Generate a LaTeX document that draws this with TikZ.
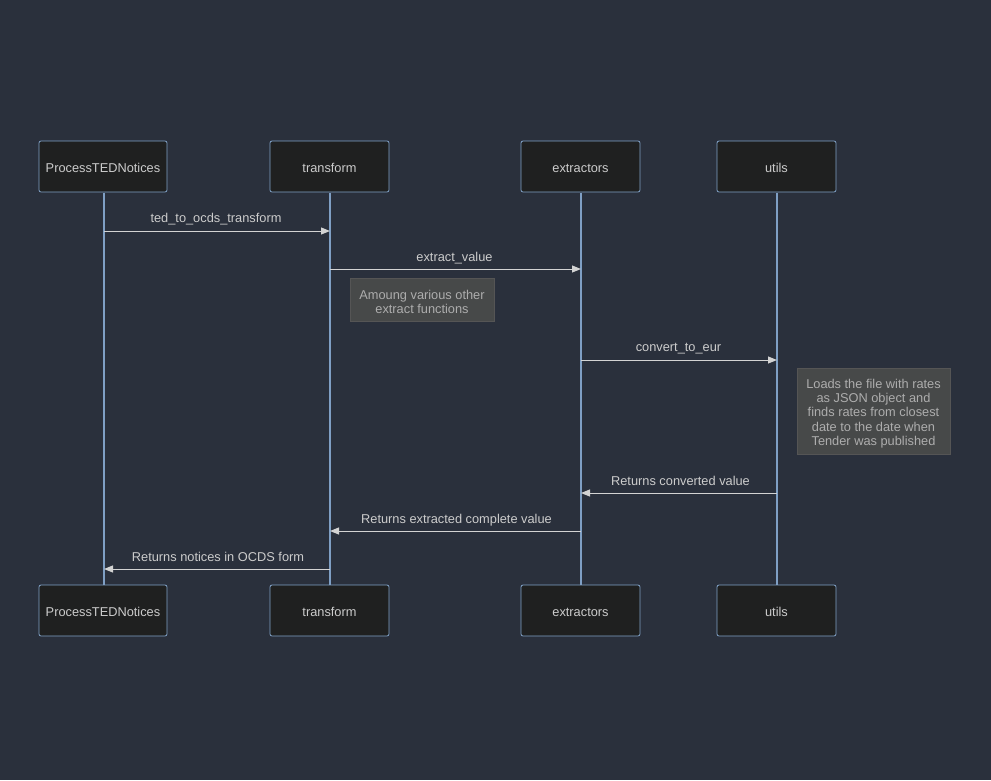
\documentclass[tikz,border=0pt]{standalone}
\usepackage{fontspec}
\setmainfont{Liberation Sans}
\usetikzlibrary{arrows.meta}
\definecolor{bg}{HTML}{2A303C}
\definecolor{boxfill}{HTML}{1F2020}
\definecolor{boxline}{HTML}{81A3C8}
\definecolor{life}{HTML}{7F9FC4}
\definecolor{msg}{HTML}{D3D3D3}
\definecolor{txt}{HTML}{CCCCCC}
\definecolor{notefill}{HTML}{474949}
\definecolor{noteline}{HTML}{555555}
\definecolor{notetxt}{HTML}{ADADAD}
\tikzset{
  actor/.style={draw=boxline, fill=boxfill, rounded corners=2pt, line width=0.8pt, minimum width=119pt, minimum height=51pt, text=txt, font=\fontsize{12.8}{15}\selectfont, inner sep=0pt, text height=12pt, text depth=0.3pt},
  lifeline/.style={draw=life, line width=1.2pt},
  msgline/.style={draw=msg, line width=1pt, -{Triangle[length=9pt,width=7pt]}},
  msglabel/.style={text=txt, font=\fontsize{12.8}{15}\selectfont, inner sep=0pt, text height=12pt, text depth=0.3pt},
  notebox/.style={draw=noteline, fill=notefill, line width=0.8pt, inner sep=0pt},
  notetext/.style={text=notetxt, font=\fontsize{12.8}{14.3}\selectfont, align=center, inner sep=0pt, yshift=-2.5pt}
}
\begin{document}
\begin{tikzpicture}[x=1pt,y=-1pt]
\fill[bg] (0,0) rectangle (991,780);
\useasboundingbox (0,0) rectangle (991,780);
% top actors
\node[actor, minimum width=128pt] (p1) at (103,166.5) {ProcessTEDNotices};
\node[actor] (t1) at (329.5,166.5) {transform};
\node[actor] (e1) at (580.5,166.5) {extractors};
\node[actor] (u1) at (776.5,166.5) {utils};
% bottom actors
\node[actor, minimum width=128pt] (p2) at (103,610.5) {ProcessTEDNotices};
\node[actor] (t2) at (329.5,610.5) {transform};
\node[actor] (e2) at (580.5,610.5) {extractors};
\node[actor] (u2) at (776.5,610.5) {utils};
% lifelines
\coordinate (pl1) at (104,192.5); \coordinate (pl2) at (104,585);
\coordinate (tl1) at (330,192.5); \coordinate (tl2) at (330,585);
\coordinate (el1) at (581,192.5); \coordinate (el2) at (581,585);
\coordinate (ul1) at (777,192.5); \coordinate (ul2) at (777,585);
\draw[lifeline] (pl1) -- (pl2);
\draw[lifeline] (tl1) -- (tl2);
\draw[lifeline] (el1) -- (el2);
\draw[lifeline] (ul1) -- (ul2);
% message points
\coordinate (m1a) at (104,231); \coordinate (m1b) at (330,231);
\coordinate (m2a) at (330,269); \coordinate (m2b) at (581,269);
\coordinate (m3a) at (581,360); \coordinate (m3b) at (777,360);
\coordinate (m4a) at (777,493); \coordinate (m4b) at (581,493);
\coordinate (m5a) at (581,531); \coordinate (m5b) at (330,531);
\coordinate (m6a) at (330,569); \coordinate (m6b) at (104,569);
\draw[msgline] (m1a) -- (m1b);
\draw[msgline] (m2a) -- (m2b);
\draw[msgline] (m3a) -- (m3b);
\draw[msgline] (m4a) -- (m4b);
\draw[msgline] (m5a) -- (m5b);
\draw[msgline] (m6a) -- (m6b);
\node[msglabel] (l1) at (216,216.5) {ted\_to\_ocds\_transform};
\node[msglabel] (l2) at (454.5,255.5) {extract\_value};
\node[msglabel] (l3) at (678.5,345.5) {convert\_to\_eur};
\node[msglabel] (l4) at (680.5,479.5) {Returns converted value};
\node[msglabel] (l5) at (456.5,517.5) {Returns extracted complete value};
\node[msglabel] (l6) at (218,555.5) {Returns notices in OCDS form};
% notes
\node[notebox, minimum width=144pt, minimum height=43pt] (n1) at (422,299.5) {};
\node[notetext] (n1t) at (n1.center) {Amoung various other\\extract functions};
\node[notebox, minimum width=153pt, minimum height=86pt] (n2) at (873.5,411) {};
\node[notetext] (n2t) at (n2.center) {Loads the file with rates\\as JSON object and\\finds rates from closest\\date to the date when\\Tender was published};
\end{tikzpicture}
\end{document}
